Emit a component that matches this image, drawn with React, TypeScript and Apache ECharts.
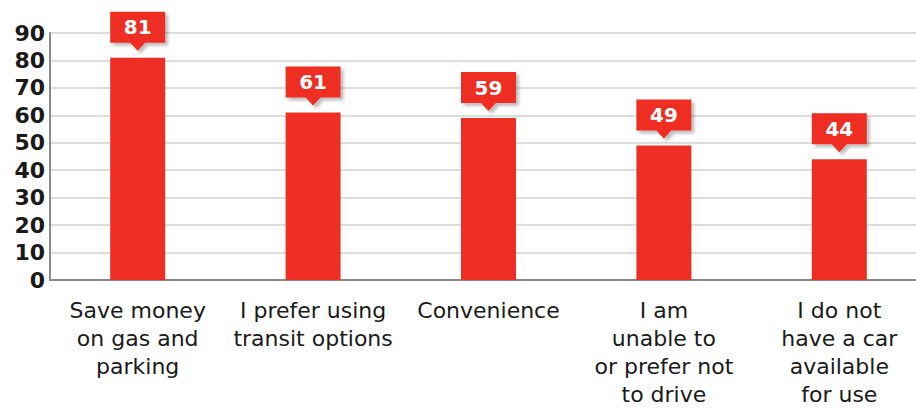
import React, { useEffect, useRef } from "react";
import * as echarts from "echarts";

const categories = [
  "Save money\non gas and\nparking",
  "I prefer using\ntransit options",
  "Convenience",
  "I am\nunable to\nor prefer not\nto drive",
  "I do not\nhave a car\navailable\nfor use",
];
const values = [81, 61, 59, 49, 44];
const yTicks = { min: 0, max: 90, interval: 10 };

const RED = "#EE2E24";
const FONT = "DejaVu Sans";

document.documentElement.style.margin = "0";
document.documentElement.style.overflow = "hidden";
document.body.style.margin = "0";
document.body.style.overflow = "hidden";

export default function App() {
  const ref = useRef<HTMLDivElement>(null);
  useEffect(() => {
    const chart = echarts.init(ref.current!, null, { renderer: "svg" });
    chart.setOption({
      animation: false,
      grid: {
        left: 50,
        top: 33,
        width: 877,
        height: 247,
        containLabel: false,
        outerBoundsMode: "none",
      },
      xAxis: {
        type: "category",
        data: categories,
        axisTick: { show: false },
        axisLine: { show: true, lineStyle: { color: "#8a8a8a", width: 2 } },
        axisLabel: {
          interval: 0,
          fontFamily: FONT,
          fontSize: 22,
          lineHeight: 28,
          color: "#1a1a1a",
          margin: 16,
          align: "center",
        },
      },
      yAxis: {
        type: "value",
        min: yTicks.min,
        max: yTicks.max,
        interval: yTicks.interval,
        axisTick: { show: false },
        axisLine: { show: true, lineStyle: { color: "#8a8a8a", width: 2 } },
        splitLine: { lineStyle: { color: "#d2d2d2", width: 1.5 } },
        axisLabel: {
          fontFamily: FONT,
          fontSize: 22,
          fontWeight: "bold",
          color: "#1a1a1a",
          margin: 5,
        },
      },
      series: [
        {
          type: "bar",
          data: values,
          barWidth: 55,
          itemStyle: { color: RED },
          z: 2,
        },
        {
          type: "scatter",
          data: values,
          symbol: "path://M0,0L55,0L55,31L35,31L27.5,39L20,31L0,31Z",
          symbolSize: [55, 39],
          symbolOffset: [0, -26.5],
          itemStyle: {
            color: RED,
            opacity: 1,
            shadowColor: "rgba(0,0,0,0.25)",
            shadowBlur: 3,
            shadowOffsetX: 3,
            shadowOffsetY: 3,
          },
          label: {
            show: true,
            position: "inside",
            offset: [0, -4],
            formatter: (p: any) => String(p.value),
            color: "#ffffff",
            fontFamily: FONT,
            fontSize: 20,
            fontWeight: "bold",
          },
          z: 3,
        },
      ],
    });
    return () => chart.dispose();
  }, []);
  return <div ref={ref} style={{ width: 916, height: 408 }} />;
}
